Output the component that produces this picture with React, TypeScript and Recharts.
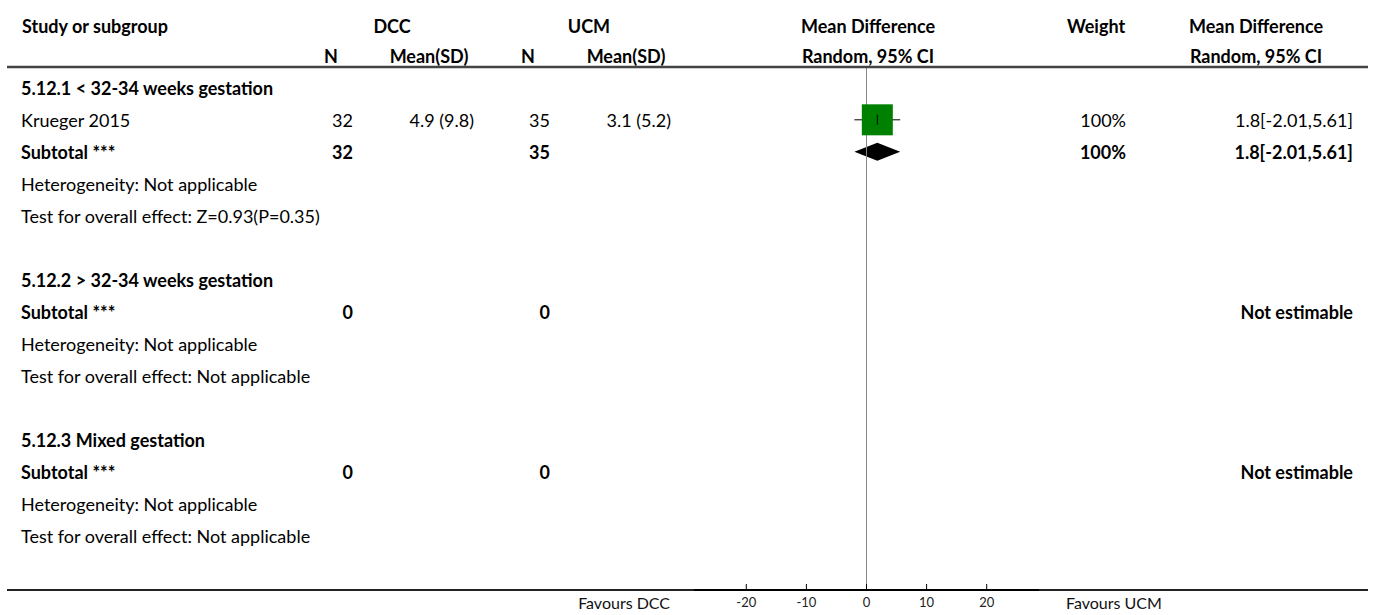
import { Area, ComposedChart, ErrorBar, ReferenceLine, Scatter, XAxis, YAxis } from 'recharts';

const FONT = 'Lato, "Noto Sans", sans-serif';

// one entry per table row, top to bottom
const rowLabels = [
  '5.12.1 < 32-34 weeks gestation',
  'Krueger 2015',
  'Subtotal ***',
  'Heterogeneity: Not applicable',
  'Test for overall effect: Z=0.93(P=0.35)',
  '',
  '5.12.2 > 32-34 weeks gestation',
  'Subtotal ***',
  'Heterogeneity: Not applicable',
  'Test for overall effect: Not applicable',
  '',
  '5.12.3 Mixed gestation',
  'Subtotal ***',
  'Heterogeneity: Not applicable',
  'Test for overall effect: Not applicable',
];
const rowBold = [true, false, true, false, false, false, true, true, false, false, false, true, true, false, false];
const dccN = ['', '32', '32', '', '', '', '', '0', '', '', '', '', '0', '', ''];
const dccMean = ['', '4.9 (9.8)', '', '', '', '', '', '', '', '', '', '', '', '', ''];
const ucmN = ['', '35', '35', '', '', '', '', '0', '', '', '', '', '0', '', ''];
const ucmMean = ['', '3.1 (5.2)', '', '', '', '', '', '', '', '', '', '', '', '', ''];
const weightText = ['', '100%', '100%', '', '', '', '', '', '', '', '', '', '', '', ''];
const ciText = ['', '1.8[-2.01,5.61]', '1.8[-2.01,5.61]', '', '', '', '', 'Not estimable', '', '', '', '', 'Not estimable', '', ''];

// individual studies
const studyRows = [1];
const studyMD = [1.8];
const studyLo = [-2.01];
const studyHi = [5.61];
const studyWeight = [100];

// pooled subtotals
const subRows = [2];
const subMD = [1.8];
const subLo = [-2.01];
const subHi = [5.61];

const xTicks = [-20, -10, 0, 10, 20];
const X_DOMAIN: [number, number] = [-28.7, 28.7];

const DIAMOND_HALF = 0.28;
const SQUARE_MAX = 31;
const FS = 18;

const tableRows = rowLabels.map((label, i) => ({ x: 0, y: i, i }));
const squares = studyRows.map((r, i) => ({
  x: studyMD[i],
  y: r,
  w: studyWeight[i],
  err: [studyMD[i] - studyLo[i], studyHi[i] - studyMD[i]],
}));

const RowText = (props: any) => {
  const { cy, payload } = props;
  const i = payload.i;
  const fw = rowBold[i] ? 700 : 400;
  const common = { fontFamily: FONT, fontSize: FS, fill: '#000', dominantBaseline: 'central' as const };
  const valueWeight = rowBold[i] && i !== 0 ? 700 : 400;
  return (
    <g>
      <text x={21} y={cy} fontWeight={fw} {...common}>{rowLabels[i]}</text>
      <text x={353} y={cy} textAnchor="end" fontWeight={valueWeight} {...common}>{dccN[i]}</text>
      <text x={474} y={cy} textAnchor="end" {...common}>{dccMean[i]}</text>
      <text x={550} y={cy} textAnchor="end" fontWeight={valueWeight} {...common}>{ucmN[i]}</text>
      <text x={671} y={cy} textAnchor="end" {...common}>{ucmMean[i]}</text>
      <text x={1126} y={cy} textAnchor="end" fontWeight={valueWeight} {...common}>{weightText[i]}</text>
      <text x={1353} y={cy} textAnchor="end" fontWeight={valueWeight} {...common}>{ciText[i]}</text>
    </g>
  );
};

const Square = (props: any) => {
  const { cx, cy, payload } = props;
  const s = SQUARE_MAX * Math.sqrt(payload.w / 100);
  return <rect x={cx - s / 2} y={cy - s / 2} width={s} height={s} fill="#008000" />;
};

const CenterTick = (props: any) => {
  const { cx, cy } = props;
  return <line x1={cx} x2={cx} y1={cy - 5} y2={cy + 5} stroke="#000" strokeWidth={1} />;
};

const AxisTick = (props: any) => {
  const { x, y, payload } = props;
  return (
    <g>
      <line x1={x} x2={x} y1={y - 6} y2={y} stroke="#000" strokeWidth={1} />
      <text x={x} y={y + 17} textAnchor="middle" fontFamily={FONT} fontSize={13} fill="#222">
        {payload.value}
      </text>
    </g>
  );
};

const Header = () => {
  const h = { fontFamily: FONT, fontSize: FS, fontWeight: 700, fill: '#000', dominantBaseline: 'central' as const };
  return (
    <svg width={1375} height={615} style={{ position: 'absolute', left: 0, top: 0, pointerEvents: 'none' }}>
      <text x={22} y={26} {...h}>Study or subgroup</text>
      <text x={392} y={26} textAnchor="middle" {...h}>DCC</text>
      <text x={589} y={26} textAnchor="middle" {...h}>UCM</text>
      <text x={868} y={26} textAnchor="middle" {...h}>Mean Difference</text>
      <text x={1096} y={26} textAnchor="middle" {...h}>Weight</text>
      <text x={1256} y={26} textAnchor="middle" {...h}>Mean Difference</text>
      <text x={331} y={56} textAnchor="middle" {...h}>N</text>
      <text x={429} y={56} textAnchor="middle" {...h}>Mean(SD)</text>
      <text x={528} y={56} textAnchor="middle" {...h}>N</text>
      <text x={626} y={56} textAnchor="middle" {...h}>Mean(SD)</text>
      <text x={868} y={56} textAnchor="middle" {...h}>Random, 95% CI</text>
      <text x={1256} y={56} textAnchor="middle" {...h}>Random, 95% CI</text>
      <line x1={7} x2={1368} y1={67} y2={67} stroke="#444" strokeWidth={2.5} />
      <line x1={7} x2={694} y1={590} y2={590} stroke="#222" strokeWidth={2} />
      <line x1={1039} x2={1368} y1={590} y2={590} stroke="#222" strokeWidth={2} />
      <text x={670} y={609} textAnchor="end" fontFamily={FONT} fontSize={16} fill="#111">Favours DCC</text>
      <text x={1066} y={609} fontFamily={FONT} fontSize={16} fill="#111">Favours UCM</text>
    </svg>
  );
};

export default function App() {
  return (
    <div style={{ position: 'absolute', left: 0, top: 0, width: 1375, height: 615, background: '#fff' }}>
      <ComposedChart
        width={1375}
        height={615}
        margin={{ top: 67, right: 336, bottom: 0, left: 694 }}
      >
        <XAxis
          type="number"
          dataKey="x"
          domain={X_DOMAIN}
          ticks={xTicks}
          height={25}
          axisLine={{ stroke: '#000', strokeWidth: 2 }}
          tickLine={false}
          tickSize={0}
          tickMargin={0}
          tick={<AxisTick />}
        />
        <YAxis type="number" dataKey="y" domain={[-0.65, 15.69]} reversed hide width={0} />
        <ReferenceLine x={0} stroke="#888" strokeWidth={1} />
        <Scatter data={tableRows} shape={<RowText />} isAnimationActive={false} />
        {subRows.map((r, i) => (
          <Area
            key={`dia-${i}`}
            data={[
              { x: subLo[i], band: [r, r] },
              { x: subMD[i], band: [r - DIAMOND_HALF, r + DIAMOND_HALF] },
              { x: subHi[i], band: [r, r] },
            ]}
            dataKey="band"
            type="linear"
            stroke="none"
            fill="#000"
            fillOpacity={1}
            isAnimationActive={false}
          />
        ))}
        <Scatter data={squares} shape={<Square />} isAnimationActive={false} />
        <Scatter data={squares} shape={<CenterTick />} isAnimationActive={false}>
          <ErrorBar dataKey="err" direction="x" width={0} stroke="#000" strokeWidth={1} />
        </Scatter>
      </ComposedChart>
      <Header />
    </div>
  );
}
